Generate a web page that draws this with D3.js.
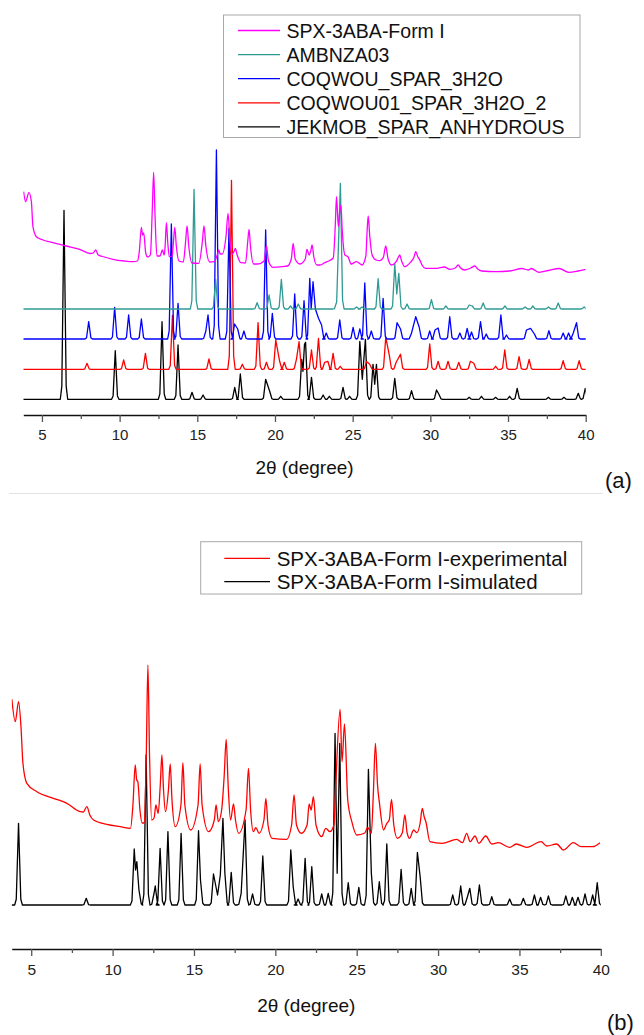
<!DOCTYPE html>
<html>
<head>
<meta charset="utf-8">
<script src="https://cdn.jsdelivr.net/npm/d3@7"></script>
<style>
  html, body { margin: 0; padding: 0; background: #fff; }
  svg { display: block; font-family: "Liberation Sans", Arial, sans-serif; }
</style>
</head>
<body>
<svg id="chart" width="644" height="1035"></svg>
<script>
// x ticks shared by both panels
const majorTicks = [5, 10, 15, 20, 25, 30, 35, 40];
const minorTicks = [7.5, 12.5, 17.5, 22.5, 27.5, 32.5, 37.5];

// ---- panel (a): simulated patterns, peaks as [2theta, height above own baseline]
const jekmob = [
  [6.42, 189], [9.72, 48.6], [12.73, 77.6], [13.76, 54.3], [14.66, 7], [15.37, 4.3],
  [17.41, 12], [17.77, 25.3], [19.4, 20], [19.66, 8], [20.37, 3],
  [21.72, 40], [21.8, 28], [21.9, 55], [21.97, 57], [22.35, 22], [23.1, 4.3], [23.5, 3],
  [24.38, 12], [24.8, 3], [25.46, 58], [25.62, 20], [25.82, 60], [26.31, 35], [26.42, 15],
  [26.53, 35], [27.71, 21], [28.79, 8.7], [30.4, 9.3], [30.55, 5], [32.5, 2], [33.29, 3],
  [34.2, 2], [35.1, 3], [35.59, 11], [37.6, 2], [38.6, 2], [39.52, 6], [39.97, 11]
];
const coqwou01 = [
  [7.9, 6], [10.26, 9.3], [11.66, 16], [13.4, 54], [15.75, 10.3], [17.2, 189], [17.9, 5],
  [18.91, 46.7], [19.45, 7], [20.05, 29.3], [20.3, 8], [20.6, 7], [21.38, 10], [21.55, 27.7],
  [22.35, 19.3], [22.8, 31], [23.2, 7], [23.4, 8], [23.74, 16], [24.2, 3], [25.89, 7.7],
  [26.1, 5], [27.13, 32], [27.35, 15], [27.8, 7], [28.08, 15], [29.96, 25.3], [30.5, 8],
  [31.14, 8], [31.83, 7], [32.58, 8], [32.8, 6], [34.2, 3], [34.79, 19.3], [35.71, 12.7],
  [36.36, 10], [38.55, 8.7], [39.58, 8.7]
];
const coqwou = [
  [8.01, 17.3], [9.68, 31.7], [10.58, 24], [11.4, 20], [13.33, 115], [13.76, 35.7],
  [15.55, 8], [15.69, 24], [16.23, 189], [17.04, 110.7], [17.4, 15], [17.6, 10], [18.0, 8],
  [19.4, 109], [19.83, 25.7], [21.27, 45], [21.87, 38.3], [22.24, 60.7], [22.33, 30],
  [22.45, 57.3], [22.6, 30], [22.8, 20.7], [23.0, 14], [23.3, 6], [24.17, 19], [25.03, 11.7],
  [25.46, 10], [25.78, 56], [26.2, 8], [26.96, 40.7], [27.86, 16.3], [28.08, 10], [28.79, 6],
  [29.06, 22.3], [29.28, 12], [29.96, 8], [30.3, 9], [30.5, 11], [31.25, 22.3], [31.9, 6],
  [32.37, 10.7], [32.65, 7], [33.23, 17.3], [33.6, 5], [34.54, 24], [34.9, 4], [36.19, 9],
  [36.45, 10.7], [36.7, 5], [37.63, 8.3], [38.55, 6], [38.9, 6], [39.2, 6], [39.41, 16.3]
];
const ambnza03 = [
  [14.79, 119.7], [16.18, 29.7], [18.85, 6.3], [19.62, 14], [20.41, 29.7], [21.0, 3],
  [21.5, 5], [23.97, 7], [24.21, 125.7], [25.25, 2], [25.6, 2], [26.64, 30.3], [27.71, 45],
  [27.84, 15], [27.97, 35.7], [28.5, 5], [30.07, 9.3], [31.0, 3], [32.5, 4], [32.7, 3],
  [33.4, 6], [34.8, 3], [36.1, 2], [36.6, 3], [37.6, 2], [38.23, 6], [39.9, 2]
];
// experimental trace, vertices [2theta, height above baseline]
const formIa = [
  [3.82, 79.3], [3.95, 69.3], [4.16, 78.3], [4.32, 69.3], [4.42, 44.3], [4.64, 34.3],
  [5.07, 31], [5.71, 28.3], [6.57, 25], [7.43, 21.7], [8.1, 17.5], [8.3, 18], [8.46, 21],
  [8.62, 16], [8.9, 14.5], [9.57, 11.7], [10.3, 10], [10.86, 9.3], [11.15, 10],
  [11.27, 20], [11.4, 43.7], [11.48, 36], [11.55, 38], [11.68, 18], [11.8, 14],
  [11.98, 16], [12.1, 60], [12.19, 98.7], [12.28, 55], [12.4, 15],
  [12.6, 15], [12.75, 21], [12.87, 16], [12.93, 25], [13.01, 48.3], [13.1, 28], [13.2, 14.3],
  [13.38, 15], [13.47, 30], [13.55, 43.7], [13.65, 25], [13.82, 10],
  [14.1, 9], [14.25, 30], [14.34, 45], [14.45, 25], [14.65, 8],
  [15.1, 7.7], [15.33, 30], [15.43, 45], [15.55, 25], [15.8, 9],
  [16.1, 9.3], [16.3, 17], [16.38, 21], [16.47, 17], [16.6, 17], [16.85, 35], [16.98, 57.7],
  [17.1, 30], [17.25, 17], [17.38, 20], [17.45, 22.7], [17.55, 17], [17.8, 8.3],
  [18.1, 8], [18.25, 30], [18.33, 41.7], [18.42, 25], [18.62, 7], [18.9, 7],
  [19.3, 10], [19.45, 25], [19.58, 10], [19.87, 3.7], [20.41, 4.3], [20.8, 5],
  [21.05, 12], [21.17, 27.7], [21.3, 12], [21.6, 7],
  [21.95, 12], [22.06, 21.7], [22.2, 16], [22.3, 20], [22.39, 26], [22.5, 14], [22.7, 6],
  [22.9, 6], [23.2, 8.3], [23.5, 10.3], [23.75, 13],
  [23.88, 45], [23.96, 74.3], [24.08, 44.3], [24.17, 60], [24.24, 66], [24.33, 40],
  [24.5, 16], [24.7, 14.3], [24.9, 7], [25.25, 9.3], [25.6, 6],
  [25.85, 15], [25.93, 40], [26.0, 55], [26.1, 35], [26.25, 16], [26.5, 11], [26.75, 10.3],
  [26.98, 14], [27.13, 25], [27.28, 12], [27.5, 6], [27.8, 9.3], [27.95, 14], [28.03, 16],
  [28.15, 10], [28.35, 4.3], [28.7, 8.3], [28.95, 14], [29.06, 19.3], [29.2, 14], [29.3, 11.7],
  [29.5, 5], [29.7, 2.7], [30.4, 2.7], [30.9, 4], [31.25, 1.7], [31.6, 3], [31.79, 6],
  [31.95, 3], [32.2, 1], [32.6, 3], [32.86, 5], [33.05, 2], [33.3, 0], [34.2, -0.7],
  [35.1, 0], [35.9, 2.5], [36.3, 1], [36.5, 2.5], [37.0, -1.3], [37.6, 0.5], [38.3, 2.5],
  [38.9, -1.3], [39.5, 0], [40.0, 1.7]
];

// ---- panel (b)
const formIsim = [
  [4.22, 81.7], [8.38, 6.7], [11.33, 56], [11.41, 35], [11.49, 43.3], [11.62, 15],
  [12.06, 150], [12.55, 12], [12.62, 19], [12.92, 56.7], [13.4, 73.3], [14.21, 71.7],
  [15.28, 74.3], [15.4, 25], [16.2, 31], [16.45, 10], [16.62, 30], [16.78, 86.7], [16.9, 31.7],
  [17.29, 32.7], [17.9, 11.7], [18.14, 85], [18.6, 11], [19.23, 49], [20.95, 55], [21.1, 18],
  [21.4, 6], [21.83, 46.7], [22.24, 38.3], [22.85, 11], [23.25, 11.7], [23.67, 171.7],
  [23.8, 31.7], [23.96, 161.7], [24.48, 22.3], [25.13, 17.7], [25.72, 135.7], [25.9, 31.7],
  [26.39, 23.3], [26.85, 61], [27.73, 35.7], [28.35, 16.7], [28.73, 52.7], [28.9, 28.3],
  [30.9, 10], [31.39, 19], [31.8, 8], [31.95, 16.7], [32.54, 20], [33.3, 8.3], [34.4, 6],
  [35.24, 6.7], [35.92, 10], [36.3, 7.7], [36.78, 9], [37.85, 9], [38.25, 7.7], [38.6, 7.7],
  [39.03, 11], [39.5, 10], [39.78, 22.3]
];
const formIexp = [
  [3.81, 145.7], [4.02, 123.3], [4.22, 143.3], [4.37, 118.3], [4.49, 81.7], [4.73, 61.7],
  [5.35, 53.3], [6.37, 46.7], [7.19, 41.7], [8.01, 33.3], [8.2, 33], [8.42, 38.3], [8.6, 30],
  [8.83, 25], [9.65, 20.7], [10.47, 18.3], [11.1, 16.7],
  [11.25, 40], [11.39, 80], [11.48, 65], [11.55, 63.3], [11.68, 35], [11.82, 22],
  [11.95, 22], [12.07, 90], [12.17, 180], [12.27, 90], [12.4, 25],
  [12.55, 27], [12.66, 40], [12.8, 31.7], [12.93, 60], [13.03, 90], [13.13, 55], [13.25, 33.3],
  [13.43, 55], [13.54, 81], [13.65, 45], [13.85, 18.3],
  [14.2, 40], [14.32, 82.3], [14.44, 40], [14.8, 15],
  [15.25, 40], [15.38, 81], [15.5, 40], [15.9, 13.3],
  [16.25, 25], [16.36, 40], [16.5, 23.3], [16.7, 35], [16.86, 70], [16.98, 105.7], [17.1, 60],
  [17.25, 25], [17.43, 41], [17.55, 25], [17.75, 11.7],
  [18.2, 35], [18.35, 76.7], [18.48, 35], [18.65, 13.3], [18.8, 17.3], [19.0, 11.7],
  [19.3, 25], [19.42, 46.7], [19.55, 20], [19.8, 6.7], [20.7, 5.7],
  [21.0, 20], [21.15, 50], [21.3, 20], [21.6, 11.7],
  [21.95, 20], [22.08, 41], [22.2, 35], [22.34, 48.3], [22.5, 20], [22.85, 8.3], [23.1, 16.7],
  [23.35, 13.3], [23.6, 20], [23.7, 55],
  [23.98, 135.7], [24.1, 83.3], [24.25, 121], [24.45, 45], [24.7, 23.3], [25.0, 10],
  [25.5, 12], [25.67, 17.7], [25.9, 11.7],
  [26.02, 50], [26.15, 101.7], [26.28, 60], [26.4, 41.7], [26.65, 15], [26.85, 21.7],
  [27.0, 25], [27.14, 45.7], [27.28, 20], [27.5, 6.7], [27.8, 12], [27.96, 30], [28.1, 12],
  [28.25, 6.7], [28.5, 15], [28.7, 12.3], [28.9, 22], [29.03, 36.7], [29.15, 28], [29.25, 23.3],
  [29.5, 3.3], [30.25, 1.7], [31.15, 5.7], [31.5, 2.3], [31.76, 11.7], [31.97, 3.3],
  [32.27, 9], [32.5, 1.7], [32.93, 9], [33.3, 1], [33.7, 2.3], [34.4, -2.3], [34.8, 1],
  [35.45, -2.3], [36.33, 3.3], [36.68, -1], [37.29, 1], [37.7, -5], [38.31, 2.3],
  [38.8, -1.7], [39.5, -1.7], [39.95, 2.3]
];

// series: name, color, baseline offset, kind
const seriesA = [
  { name: "SPX-3ABA-Form I", color: "#ff00ff", offset: 134, data: formIa, kind: "trace" },
  { name: "AMBNZA03", color: "#2f9a94", offset: 96, data: ambnza03, kind: "peaks" },
  { name: "COQWOU_SPAR_3H2O", color: "#0000ff", offset: 66, data: coqwou, kind: "peaks" },
  { name: "COQWOU01_SPAR_3H2O_2", color: "#ff0000", offset: 35.7, data: coqwou01, kind: "peaks" },
  { name: "JEKMOB_SPAR_ANHYDROUS", color: "#000000", offset: 5.7, data: jekmob, kind: "peaks" }
];
const seriesB = [
  { name: "SPX-3ABA-Form I-experimental", color: "#ff0000", offset: 65, data: formIexp, kind: "trace" },
  { name: "SPX-3ABA-Form I-simulated", color: "#000000", offset: 5, data: formIsim, kind: "peaks" }
];

const svg = d3.select("#chart");
const font = '"Liberation Sans", Arial, sans-serif';

// stick list -> vertices: each peak gets a narrow foot on both sides unless neighbours are close
function spikes(peaks, w) {
  const pts = [];
  peaks.forEach(([p, h], i) => {
    const prev = peaks[i - 1], next = peaks[i + 1];
    if (!prev || p - prev[0] > 2 * w) pts.push([p - w * 1.7, 0], [p - w, h * 0.07]);
    pts.push([p, h]);
    if (!next || next[0] - p > 2 * w) pts.push([p + w, h * 0.07], [p + w * 1.7, 0]);
  });
  return [[3.8, 0], ...pts, [40.3, 0]];
}

function panel({ x, y, series, axisY, tickPad, tickFont, titleY, tag, tagX, tagY, legend, id }) {
  const g = svg.append("g");
  g.append("clipPath").attr("id", id)
    .append("rect")
    .attr("x", x(3.8)).attr("y", 0)
    .attr("width", x(40) - x(3.8)).attr("height", axisY);

  const plot = g.append("g").attr("clip-path", `url(#${id})`);
  // draw bottom series first so upper ones sit on top, like the original
  series.slice().reverse().forEach((s) => {
    const pts = s.kind === "peaks" ? spikes(s.data, 0.14) : s.data;
    const line = d3.line()
      .x((d) => x(d[0]))
      .y((d) => y(d[1] + s.offset));
    if (s.kind === "trace") line.curve(d3.curveMonotoneX);
    plot.append("path")
      .datum(pts)
      .attr("fill", "none")
      .attr("stroke", s.color)
      .attr("stroke-width", 1.3)
      .attr("stroke-linejoin", "round")
      .attr("d", line);
  });

  // axis
  const ax = g.append("g").attr("transform", `translate(0,${axisY})`);
  ax.call(d3.axisBottom(x).tickValues(majorTicks).tickSize(7).tickSizeOuter(0).tickPadding(tickPad));
  ax.append("g").call(d3.axisBottom(x).tickValues(minorTicks).tickSize(4).tickFormat(""))
    .select(".domain").remove();
  ax.selectAll(".domain").attr("stroke", "#111").attr("stroke-width", 1.4);
  ax.selectAll(".tick line").attr("stroke", "#555").attr("stroke-width", 1.3);
  ax.selectAll(".tick text")
    .attr("fill", "#222")
    .style("font-family", font)
    .style("font-size", `${tickFont}px`);

  const mid = (x(3.8) + x(40)) / 2;
  g.append("text")
    .attr("x", mid).attr("y", titleY)
    .attr("text-anchor", "middle")
    .style("font-size", "19px")
    .attr("fill", "#111")
    .text("2θ (degree)");

  g.append("text")
    .attr("x", tagX).attr("y", tagY)
    .style("font-size", "22px")
    .attr("fill", "#111")
    .text(tag);

  // legend box
  const lg = g.append("g");
  lg.append("rect")
    .attr("x", legend.x0).attr("y", legend.y0)
    .attr("width", legend.x1 - legend.x0).attr("height", legend.y1 - legend.y0)
    .attr("fill", "#fff").attr("stroke", "#a8a8a8").attr("stroke-width", 1);
  const rows = lg.selectAll("g.row")
    .data(series)
    .join("g")
    .attr("class", "row")
    .attr("transform", (d, i) => `translate(0,${legend.first + i * legend.step})`);
  rows.append("line")
    .attr("x1", legend.lx0).attr("x2", legend.lx1)
    .attr("stroke", (d) => d.color).attr("stroke-width", 1.3);
  rows.append("text")
    .attr("x", legend.tx)
    .attr("y", legend.fs * 0.36)
    .style("font-size", `${legend.fs}px`)
    .attr("fill", "#111")
    .text((d) => d.name);
}

// panel (a)
const xA = d3.scaleLinear().domain([3.8, 40]).range([23.3, 585.7]);
const yA = d3.scaleLinear().domain([0, 265]).range([405, 140]);
panel({
  x: xA, y: yA, series: seriesA, axisY: 415, tickPad: 7.6, tickFont: 15, titleY: 473.5,
  tag: "(a)", tagX: 605, tagY: 488, id: "clipA",
  legend: { x0: 223.5, x1: 580, y0: 15, y1: 137.5, first: 30.5, step: 24.1,
            lx0: 238, lx1: 280, tx: 286.5, fs: 19.5 }
});

// thin separator between the two panels
svg.append("line")
  .attr("x1", 9).attr("x2", 603).attr("y1", 493.5).attr("y2", 493.5)
  .attr("stroke", "#e2e2e2").attr("stroke-width", 1);

// panel (b)
const xB = d3.scaleLinear().domain([3.8, 40]).range([11.7, 600.8]);
const yB = d3.scaleLinear().domain([0, 260]).range([910, 650]);
panel({
  x: xB, y: yB, series: seriesB, axisY: 949, tickPad: 8.4, tickFont: 15.5, titleY: 1012,
  tag: "(b)", tagX: 607, tagY: 1030, id: "clipB",
  legend: { x0: 200.7, x1: 581.7, y0: 541.7, y1: 594, first: 558.3, step: 23.4,
            lx0: 224.3, lx1: 270, tx: 276.7, fs: 20.5 }
});
</script>
</body>
</html>
